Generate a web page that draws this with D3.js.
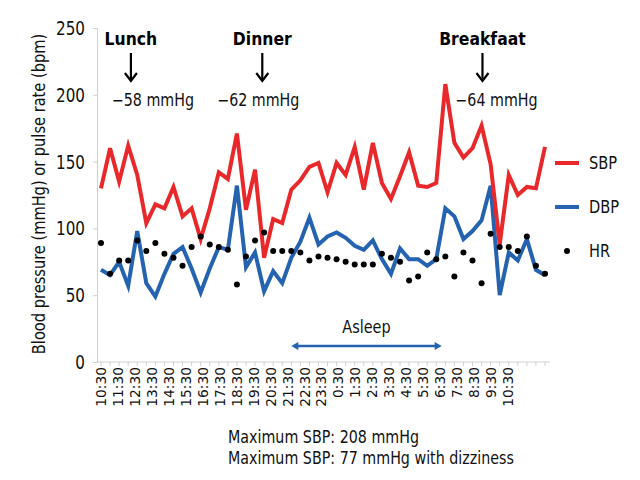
<!DOCTYPE html>
<html><head><meta charset="utf-8">
<script src="https://cdn.jsdelivr.net/npm/d3@7/dist/d3.min.js"></script>
<style>
body{margin:0;background:#fff;}
text{font-family:"DejaVu Sans",sans-serif;}
</style></head>
<body><svg id="c" width="640" height="480"></svg>
<script>
const timeLabels = ["10:30","11:30","12:30","13:30","14:30","15:30","16:30","17:30","18:30","19:30","20:30","21:30","22:30","23:30","0:30","1:30","2:30","3:30","4:30","5:30","6:30","7:30","8:30","9:30","10:30"];
const sbp = [130,160,135,162,140,104,118,115,131,109,115,92,115,142,137,171,114,144,78,107,104,129,136,146,149,127,149,140,161,129,164,134,122,139,157,132,131,134,208,164,153,160,177,148,88,140,125,131,130,161];
const dbp = [69,65,75,57,98,59,49,66,81,86,70,52,70,86,84,132,71,82,53,68,59,78,90,108,88,94,97,93,87,84,91,77,66,85,77,77,72,77,115,109,92,98,106,132,50,82,76,92,69,65];
const hr  = [89,66,76,76,91,83,89,81,78,72,86,94,88,86,84,58,79,91,97,83,83,83,82,76,79,78,77,75,73,73,73,81,78,75,61,64,82,77,79,64,82,76,59,96,86,86,83,94,72,66];
const yTicks = [0,50,100,150,200,250];
const seriesNames = ["SBP","DBP","HR"];
const meals = [{label:"Lunch", drop:"\u221258 mmHg", idx:3.3, textDx:22},
               {label:"Dinner", drop:"\u221262 mmHg", idx:17.8, textDx:-4},
               {label:"Breakfaat", drop:"\u221264 mmHg", idx:42.1, textDx:14}];
const asleep = {from:21.0, to:37.6, label:"Asleep"};
const notes = ["Maximum SBP: 208 mmHg","Maximum SBP: 77 mmHg with dizziness"];

const svg = d3.select("#c");
const red = "#e8282b", blue = "#2563b0", axisCol = "#d0d0d0";
const y = d3.scaleLinear().domain([0,250]).range([362,28]);
const x = d3.scalePoint().domain(d3.range(sbp.length)).range([101,545]);
const xi = d3.scaleLinear().domain([0, sbp.length-1]).range([101,545]);
const xt = d3.scaleLinear().domain([0,24]).range([101,508]);

// condensed text helper
function ctext(g, str, px, py, opts){
  const o = Object.assign({size:17, sx:0.84, anchor:"start", rot:0, weight:"normal", fill:"#111"}, opts||{});
  return g.append("text")
    .attr("transform",`translate(${px},${py})${o.rot?` rotate(${o.rot})`:""} scale(${o.sx},1)`)
    .attr("text-anchor",o.anchor).attr("font-size",o.size).attr("font-weight",o.weight)
    .attr("fill",o.fill).text(str);
}

// y axis
const ya = svg.append("g").attr("transform","translate(97,0)")
  .call(d3.axisLeft(y).tickValues(yTicks).tickSize(4).tickFormat(""));
ya.select(".domain").attr("stroke",axisCol);
ya.selectAll(".tick line").attr("stroke",axisCol);
yTicks.forEach(v=>ctext(svg, String(v), 85, y(v)+7, {size:19, sx:0.8, anchor:"end"}));

// x axis line + ticks
const xa = svg.append("g").attr("transform","translate(0,362)");
xa.append("line").attr("x1",97).attr("x2",550).attr("y1",0).attr("y2",0).attr("stroke",axisCol);
xa.selectAll("line.tk").data(d3.range(sbp.length)).join("line").attr("class","tk")
  .attr("x1",d=>x(d)).attr("x2",d=>x(d)).attr("y1",0).attr("y2",4).attr("stroke",axisCol);
timeLabels.forEach((d,i)=>ctext(svg, d, xt(i)+5, 367, {size:14.5, sx:0.95, anchor:"end", rot:-90}));

// y title
ctext(svg, "Blood pressure (mmHg) or pulse rate (bpm)", 45, 194, {size:17, sx:0.86, anchor:"middle", rot:-90});

// lines
const line = d3.line().x((d,i)=>x(i)).y(d=>y(d));
svg.append("path").datum(dbp).attr("d",line).attr("fill","none").attr("stroke",blue)
  .attr("stroke-width",4).attr("stroke-linejoin","miter");
svg.append("path").datum(sbp).attr("d",line).attr("fill","none").attr("stroke",red)
  .attr("stroke-width",4).attr("stroke-linejoin","miter");
svg.selectAll("circle.hr").data(hr).join("circle").attr("class","hr")
  .attr("cx",(d,i)=>x(i)).attr("cy",d=>y(d)).attr("r",3).attr("fill","#000");

// legend
const lg = svg.append("g");
const legY = [163,207,251];
lg.append("line").attr("x1",555).attr("x2",579).attr("y1",legY[0]).attr("y2",legY[0]).attr("stroke",red).attr("stroke-width",4);
lg.append("line").attr("x1",555).attr("x2",579).attr("y1",legY[1]).attr("y2",legY[1]).attr("stroke",blue).attr("stroke-width",4);
lg.append("circle").attr("cx",567).attr("cy",legY[2]).attr("r",3).attr("fill","#000");
seriesNames.forEach((d,i)=>ctext(lg, d, 589, legY[i]+6, {size:17, sx:0.86}));

// meal annotations
const ann = svg.append("g");
meals.forEach(m=>{
  const cx = xi(m.idx);
  ctext(ann, m.label, cx, 45, {size:17, sx:0.92, anchor:"middle", weight:"bold", fill:"#000"});
  ann.append("line").attr("x1",cx).attr("x2",cx).attr("y1",53).attr("y2",80).attr("stroke","#000").attr("stroke-width",2.2);
  ann.append("path").attr("d",`M${cx-6},${73} L${cx},${81} L${cx+6},${73}`).attr("fill","none").attr("stroke","#000").attr("stroke-width",2.2);
  ctext(ann, m.drop, cx+m.textDx, 106, {size:17, sx:0.84, anchor:"middle"});
});

// asleep double arrow
const ax1 = xi(asleep.from), ax2 = xi(asleep.to);
svg.append("line").attr("x1",ax1+3).attr("x2",ax2-3).attr("y1",346).attr("y2",346).attr("stroke",blue).attr("stroke-width",2.5);
svg.append("path").attr("d",`M${ax1},346 L${ax1+7},342 L${ax1+7},350 Z`).attr("fill",blue);
svg.append("path").attr("d",`M${ax2},346 L${ax2-7},342 L${ax2-7},350 Z`).attr("fill",blue);
ctext(svg, asleep.label, (ax1+ax2)/2, 333, {size:17, sx:0.85, anchor:"middle"});

// notes
notes.forEach((d,i)=>ctext(svg, d, 228, 443+i*21, {size:17, sx:0.84}));
</script></body></html>
